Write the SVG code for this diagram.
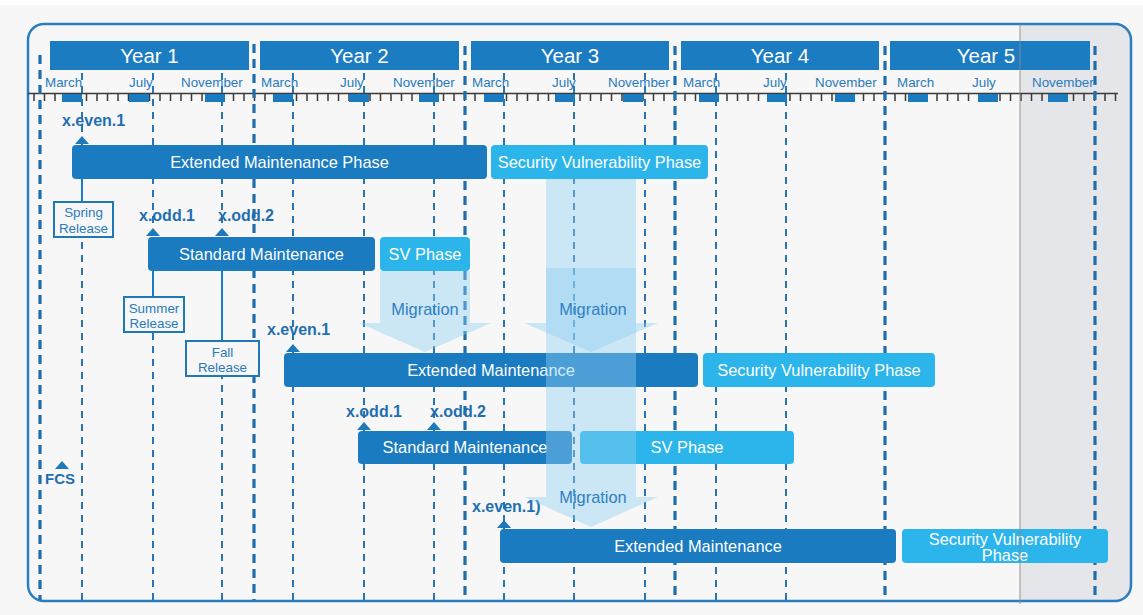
<svg xmlns="http://www.w3.org/2000/svg" width="1143" height="615" viewBox="0 0 1143 615">
<style>
text{font-family:"Liberation Sans",Arial,sans-serif}
.yr{fill:#fff;font-size:20.5px;text-anchor:middle}
.mo{fill:#2a7bbd;font-size:13.4px}
.hdr{fill:#1b7cc2}
.dk{fill:#1a7bc1}
.lt{fill:#2bb5ea}
.bt{fill:#fff;font-size:16.4px;text-anchor:middle}
.ms{fill:#1f6fb0;font-size:16px;font-weight:bold}
.tri{fill:#1f78b8}
.thin{stroke:#2a74b3;stroke-width:2;stroke-dasharray:7 6;fill:none}
.thick{stroke:#1e6eae;stroke-width:3.2;stroke-dasharray:9 6;fill:none}
.box{fill:#f7f7f7;stroke:#1f78b8;stroke-width:2}
.bx{fill:#2a7bbd;font-size:13.4px;text-anchor:middle}
.conn{stroke:#1a7bc1;stroke-width:2;fill:none}
.mig{fill:#8fd0f3;fill-opacity:0.42}
.mt{fill:#2f80c2;font-size:16.4px;text-anchor:middle}
.mr{fill:#1a7bc1}
</style>
<rect x="0" y="0" width="1143" height="615" fill="#f7f7f7"/>
<rect x="0" y="0" width="1143" height="5" fill="#ffffff"/>
<path d="M1020 24H1115A16 16 0 0 1 1131 40V585A16 16 0 0 1 1115 601H1020Z" fill="#e5e6ea"/>
<rect x="28" y="24" width="1103" height="577" rx="16" fill="none" stroke="#2a7dbf" stroke-width="2.5"/>

<g id="year-headers">
<rect class="hdr" x="50" y="41" width="199" height="29"/>
<text class="yr" x="149.5" y="63">Year 1</text>
<rect class="hdr" x="260" y="41" width="199" height="29"/>
<text class="yr" x="359.5" y="63">Year 2</text>
<rect class="hdr" x="471" y="41" width="198" height="29"/>
<text class="yr" x="570" y="63">Year 3</text>
<rect class="hdr" x="681" y="41" width="198" height="29"/>
<text class="yr" x="780" y="63">Year 4</text>
<rect class="hdr" x="890" y="41" width="200" height="29"/>
<text class="yr" x="986" y="63">Year 5</text>
</g>

<g id="timeline">
<line x1="28" y1="93.5" x2="1118" y2="93.5" stroke="#3a3a3a" stroke-width="1.6"/>
<path stroke="#3a3a3a" stroke-width="1.5" fill="none" d="M34 94v7M44.5 94v7M55 94v7M65.5 94v7M76 94v7M86.5 94v7M97 94v7M107.5 94v7M118 94v7M128.5 94v7M139 94v7M149.5 94v7M160 94v7M170.5 94v7M181 94v7M191.5 94v7M202 94v7M212.5 94v7M223 94v7M233.5 94v7M244 94v7M254.5 94v7M265 94v7M275.5 94v7M286 94v7M296.5 94v7M307 94v7M317.5 94v7M328 94v7M338.5 94v7M349 94v7M359.5 94v7M370 94v7M380.5 94v7M391 94v7M401.5 94v7M412 94v7M422.5 94v7M433 94v7M443.5 94v7M454 94v7M464.5 94v7M475 94v7M485.5 94v7M496 94v7M506.5 94v7M517 94v7M527.5 94v7M538 94v7M548.5 94v7M559 94v7M569.5 94v7M580 94v7M590.5 94v7M601 94v7M611.5 94v7M622 94v7M632.5 94v7M643 94v7M653.5 94v7M664 94v7M674.5 94v7M685 94v7M695.5 94v7M706 94v7M716.5 94v7M727 94v7M737.5 94v7M748 94v7M758.5 94v7M769 94v7M779.5 94v7M790 94v7M800.5 94v7M811 94v7M821.5 94v7M832 94v7M842.5 94v7M853 94v7M863.5 94v7M874 94v7M884.5 94v7M895 94v7M905.5 94v7M916 94v7M926.5 94v7M937 94v7M947.5 94v7M958 94v7M968.5 94v7M979 94v7M989.5 94v7M1000 94v7M1010.5 94v7M1021 94v7M1031.5 94v7M1042 94v7M1052.5 94v7M1063 94v7M1073.5 94v7M1084 94v7M1094.5 94v7M1105 94v7M1115.5 94v7"/>
</g>

<g id="gridlines">
<path class="thin" d="M82 73V600M153 73V600M222 73V600M293 73V600M364 73V600M434 73V600M504 73V600M574 73V600M645 73V600M716 73V600M786 73V600"/>
<path class="thick" d="M40 55V600M254 44V600M465 46V600M675 46V600M885 46V600M1095 46V600"/>
</g>

<g id="months">
<g class="mr">
<rect x="62" y="94" width="20" height="8"/><rect x="129" y="94" width="20" height="8"/><rect x="205" y="94" width="20" height="8"/>
<rect x="273" y="94" width="20" height="8"/><rect x="349" y="94" width="20" height="8"/><rect x="419" y="94" width="20" height="8"/>
<rect x="484" y="94" width="20" height="8"/><rect x="555" y="94" width="20" height="8"/><rect x="623" y="94" width="20" height="8"/>
<rect x="699" y="94" width="20" height="8"/><rect x="767" y="94" width="20" height="8"/><rect x="835" y="94" width="20" height="8"/>
<rect x="908" y="94" width="20" height="8"/><rect x="978" y="94" width="20" height="8"/><rect x="1048" y="94" width="20" height="8"/>
</g>
<text class="mo" x="45" y="87">March</text><text class="mo" x="129" y="87">July</text><text class="mo" x="181" y="87">November</text>
<text class="mo" x="261" y="87">March</text><text class="mo" x="340" y="87">July</text><text class="mo" x="393" y="87">November</text>
<text class="mo" x="472" y="87">March</text><text class="mo" x="552" y="87">July</text><text class="mo" x="608" y="87">November</text>
<text class="mo" x="683" y="87">March</text><text class="mo" x="763" y="87">July</text><text class="mo" x="815" y="87">November</text>
<text class="mo" x="897" y="87">March</text><text class="mo" x="972" y="87">July</text><text class="mo" x="1032" y="87">November</text>
</g>

<g id="milestones">
<text class="ms" x="62" y="126">x.even.1</text>
<polygon class="tri" points="75,144 89,144 82,136"/>
<text class="ms" x="139" y="221">x.odd.1</text>
<polygon class="tri" points="146,236 160,236 153,228"/>
<text class="ms" x="218" y="221">x.odd.2</text>
<polygon class="tri" points="215,236 229,236 222,228"/>
<text class="ms" x="267" y="335">x.even.1</text>
<polygon class="tri" points="286,352 300,352 293,344"/>
<text class="ms" x="346" y="417">x.odd.1</text>
<polygon class="tri" points="357,430 371,430 364,422"/>
<text class="ms" x="430" y="417">x.odd.2</text>
<polygon class="tri" points="427,430 441,430 434,422"/>
<text class="ms" x="472" y="512">x.even.1)</text>
<polygon class="tri" points="497,528 511,528 504,520"/>
<text class="ms" x="45" y="484" style="font-size:15px">FCS</text>
<polygon class="tri" points="55,469 69,469 62,461"/>
</g>

<g id="row1-extended">
<rect class="dk" x="72" y="145" width="415" height="34" rx="4"/>
<text class="bt" x="279.5" y="167.5">Extended Maintenance Phase</text>
</g>
<g id="row1-security">
<rect class="lt" x="491" y="145" width="217" height="34" rx="4"/>
<text class="bt" x="599.5" y="167.5">Security Vulnerability Phase</text>
</g>
<g id="row2-standard">
<rect class="dk" x="148" y="237" width="227" height="34" rx="4"/>
<text class="bt" x="261.5" y="259.5">Standard Maintenance</text>
</g>
<g id="row2-sv">
<rect class="lt" x="380" y="237" width="90" height="34" rx="4"/>
<text class="bt" x="425" y="259.5">SV Phase</text>
</g>
<g id="row3-extended">
<rect class="dk" x="284" y="353" width="414" height="34" rx="4"/>
<text class="bt" x="491" y="375.5">Extended Maintenance</text>
</g>
<g id="row3-security">
<rect class="lt" x="703" y="353" width="232" height="34" rx="4"/>
<text class="bt" x="819" y="375.5">Security Vulnerability Phase</text>
</g>
<g id="row4-standard">
<rect class="dk" x="358" y="431" width="214" height="33" rx="4"/>
<text class="bt" x="465" y="453">Standard Maintenance</text>
</g>
<g id="row4-sv">
<rect class="lt" x="580" y="431" width="214" height="33" rx="4"/>
<text class="bt" x="687" y="453">SV Phase</text>
</g>
<g id="row5-extended">
<rect class="dk" x="500" y="529" width="396" height="34" rx="4"/>
<text class="bt" x="698" y="551.5">Extended Maintenance</text>
</g>
<g id="row5-security">
<rect class="lt" x="902" y="529" width="206" height="34" rx="4"/>
<text class="bt" x="1005" y="544.5">Security Vulnerability</text>
<text class="bt" x="1005" y="560.5">Phase</text>
</g>

<g id="connectors">
<path class="conn" d="M82 179V201M153 237V297M222 237V341"/>
<polygon class="mig" points="380,271 470,271 470,323 491,323 425,352 359,323 380,323"/>
<polygon class="mig" points="546,179 636,179 636,323 658,323 591,352 524,323 546,323"/>
<polygon class="mig" points="546,268 636,268 636,497 658,497 591,527 524,497 546,497"/>
</g>

<g id="release-spring">
<rect class="box" x="54" y="202" width="59" height="35"/>
<text class="bx" x="83.5" y="217">Spring</text>
<text class="bx" x="83.5" y="232.5">Release</text>
</g>
<g id="release-summer">
<rect class="box" x="124" y="297" width="60" height="35"/>
<text class="bx" x="154" y="312.5">Summer</text>
<text class="bx" x="154" y="328">Release</text>
</g>
<g id="release-fall">
<rect class="box" x="186" y="341" width="73" height="35"/>
<text class="bx" x="222.5" y="356.5">Fall</text>
<text class="bx" x="222.5" y="372">Release</text>
</g>

<g id="migration-labels">
<text class="mt" x="425" y="315">Migration</text>
<text class="mt" x="593" y="315">Migration</text>
<text class="mt" x="593" y="503">Migration</text>
</g>

<line x1="1020" y1="24" x2="1020" y2="604" stroke="#8a8a8a" stroke-width="1.5" stroke-opacity="0.6"/>
</svg>
